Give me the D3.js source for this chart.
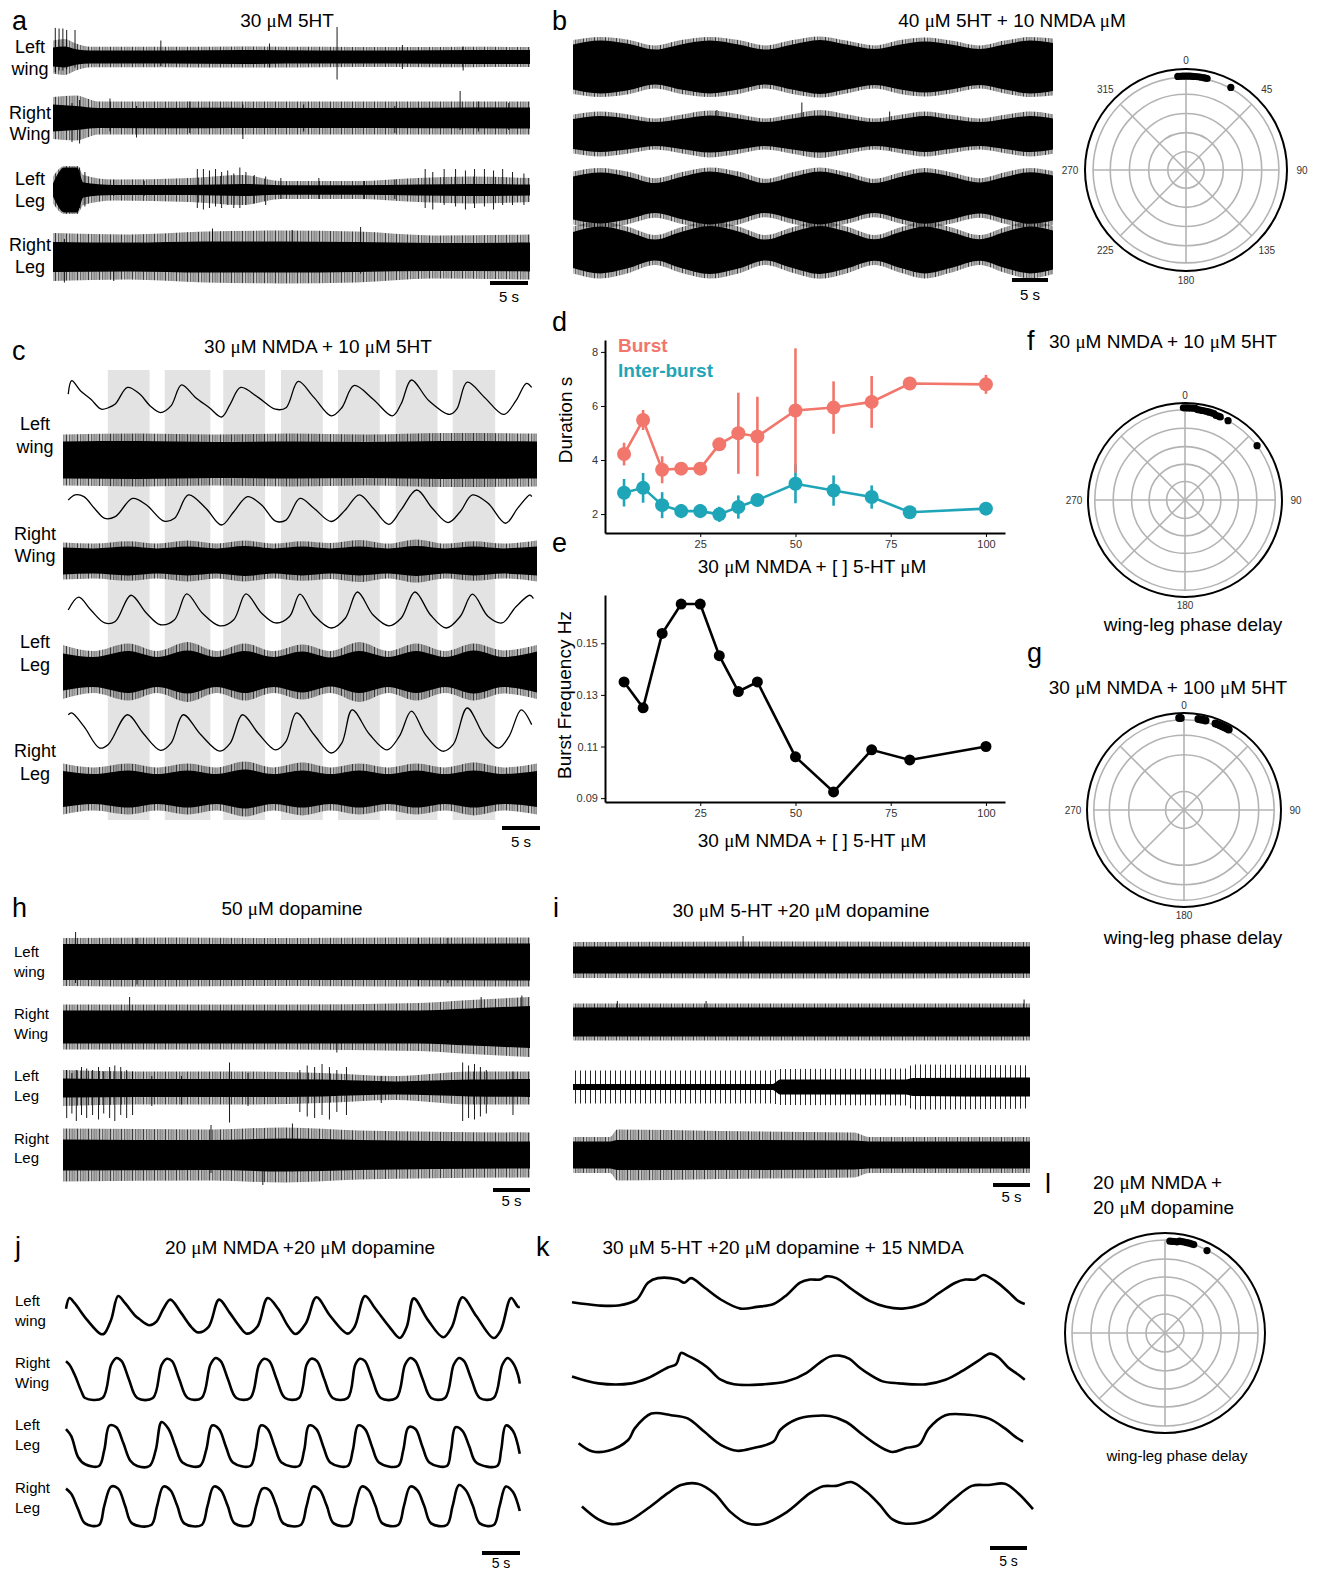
<!DOCTYPE html>
<html>
<head>
<meta charset="utf-8">
<script src="https://cdn.jsdelivr.net/npm/d3@7"></script>
<style>
  body { margin: 0; background: #fff; }
  svg { display: block; }
  text { font-family: "Liberation Sans", Arial, sans-serif; fill: #000; }
</style>
</head>
<body>
<svg id="fig"></svg>
<script>
// ---------- data (time in s, amplitudes in normalised units) ----------
// noisy traces: [t, core half-amplitude, fringe half-amplitude]; spikes: [t, top, bottom]
const aLW = [[0,0.32,0.55],[1.5,0.35,0.6],[3,0.26,0.45],[5,0.22,0.34],[15,0.22,0.34],[25,0.23,0.35],[35,0.22,0.34],[45,0.22,0.33],[55,0.23,0.34],[62.8,0.23,0.33]];
const aLWsp = [[0.3,0.97,-0.5],[0.8,0.95,-0.45],[1.3,0.95,-0.45],[1.8,0.9,-0.4],[2.9,0.9,-0.35],[14.2,0.55,-0.3],[28.5,0.45,-0.35],[37.4,1.0,-0.75],[46,0.4,-0.4],[54,0.35,-0.45]];
const aRW = [[0,0.45,0.7],[3,0.4,0.75],[6,0.33,0.55],[20,0.34,0.55],[35,0.33,0.55],[50,0.34,0.55],[62.8,0.35,0.55]];
const aRWsp = [[2.5,0.5,-0.8],[3.5,0.6,-0.85],[7.5,0.65,-0.45],[11,0.4,-0.65],[18,0.55,-0.5],[25,0.45,-0.7],[33,0.45,-0.45],[45,0.4,-0.5],[53.6,0.9,-0.4],[56,0.55,-0.45],[60,0.5,-0.4]];
const aLL = [[0,0.22,0.45],[1.5,0.75,0.8],[3.2,0.75,0.8],[4,0.25,0.5],[8,0.17,0.35],[18,0.17,0.4],[25,0.2,0.5],[30,0.16,0.3],[40,0.16,0.3],[48,0.18,0.4],[55,0.2,0.45],[62.8,0.18,0.4]];
const aLLsp = [[1.5,0.7,-0.7],[3.5,0.75,-0.6],[4.2,0.6,-0.55],[8,0.35,-0.2],[12,0.3,-0.2],[19,0.7,-0.6],[19.8,0.7,-0.65],[20.6,0.65,-0.6],[21.4,0.7,-0.55],[22.2,0.6,-0.6],[23,0.65,-0.5],[23.8,0.55,-0.6],[24.6,0.75,-0.6],[25.4,0.6,-0.5],[26.5,0.5,-0.45],[28,0.45,-0.5],[30,0.4,-0.3],[35,0.4,-0.3],[41,0.3,-0.3],[45,0.35,-0.3],[49,0.7,-0.6],[50,0.6,-0.65],[51.5,0.7,-0.5],[53,0.7,-0.55],[54.3,0.65,-0.65],[55.5,0.7,-0.6],[56.8,0.7,-0.55],[58,0.65,-0.65],[59.2,0.7,-0.5],[60.5,0.6,-0.5],[62,0.55,-0.5]];
const aRL = [[0,0.5,0.8],[10,0.48,0.75],[20,0.52,0.85],[30,0.52,0.88],[40,0.5,0.85],[50,0.47,0.72],[62.8,0.48,0.75]];
const aRLsp = [[1.5,0.6,-0.85],[8,0.4,-0.8],[21,0.95,-0.5],[31.5,0.9,-0.5],[40.5,1.0,-0.55]];

const b1 = [[0,0.75,0.9],[3.8,0.88,1.0],[7.5,0.78,0.92],[11.4,0.58,0.72],[15,0.75,0.9],[19,0.88,1.0],[23,0.75,0.9],[26.7,0.58,0.72],[30.5,0.75,0.9],[34.3,0.9,1.02],[38,0.75,0.88],[41.9,0.6,0.72],[45.5,0.75,0.9],[48.9,0.85,0.98],[52.5,0.75,0.88],[56.5,0.6,0.72],[60,0.75,0.88],[63.5,0.88,1.0],[66.7,0.8,0.95]];
const b2 = [[0,0.5,0.65],[3.8,0.6,0.75],[7.5,0.52,0.66],[11.4,0.4,0.52],[15,0.5,0.64],[19,0.62,0.78],[23,0.52,0.66],[26.7,0.4,0.52],[30.5,0.52,0.66],[34.3,0.62,0.8],[38,0.52,0.66],[41.9,0.4,0.52],[45.5,0.5,0.64],[48.9,0.6,0.75],[52.5,0.5,0.64],[56.5,0.4,0.52],[60,0.5,0.64],[63.5,0.6,0.75],[66.7,0.52,0.66]];
const b2sp = [[31.8,1.05,-0.5],[20,0.8,-0.6],[44,0.75,-0.55]];
const b3 = [[0,0.72,0.88],[3.8,0.85,1.0],[7.5,0.72,0.88],[11.4,0.5,0.66],[15,0.7,0.86],[19,0.88,1.02],[23,0.72,0.88],[26.7,0.5,0.64],[30.5,0.7,0.86],[34.3,0.88,1.02],[38,0.72,0.86],[41.9,0.5,0.64],[45.5,0.7,0.85],[48.9,0.86,1.0],[52.5,0.72,0.86],[56.5,0.52,0.66],[60,0.7,0.86],[63.5,0.86,1.0],[66.7,0.75,0.9]];
const b4 = [[0,0.6,0.78],[3.8,0.78,0.95],[7.5,0.62,0.78],[11.4,0.35,0.5],[15,0.6,0.76],[19,0.8,0.95],[23,0.62,0.78],[26.7,0.35,0.5],[30.5,0.6,0.76],[34.3,0.8,0.96],[38,0.62,0.78],[41.9,0.36,0.5],[45.5,0.6,0.76],[48.9,0.78,0.95],[52.5,0.6,0.76],[56.5,0.36,0.5],[60,0.6,0.76],[63.5,0.78,0.95],[66.7,0.65,0.8]];

// panel c
const cBursts = [[5.9,11.4],[13.4,19.4],[21.1,26.6],[28.7,34.2],[36.2,41.7],[43.8,49.3],[51.3,56.9]];
const cLWslow = [[0.69,0.62],[1.15,0.98],[2.29,0.71],[3.67,0.48],[5.05,0.21],[5.96,0.25],[6.88,0.35],[8.49,0.8],[10.1,0.62],[11.47,0.3],[12.84,0.12],[14.22,0.3],[15.6,0.87],[17.43,0.53],[19.27,0.25],[20.87,0],[22.02,0.35],[23.39,0.8],[25.69,0.53],[27.98,0.21],[29.36,0.25],[30.96,0.96],[33.03,0.53],[35.32,0.03],[36.7,0.25],[38.3,0.85],[40.83,0.48],[43.35,0.03],[44.5,0.35],[45.87,1.0],[48.17,0.44],[50.92,0.07],[51.83,0.21],[53.21,0.94],[55.5,0.53],[58.03,0.07],[59.63,0.44],[61.01,0.91],[61.7,0.8]];
const cRWslow = [[0.69,0.71],[1.6,0.86],[2.75,0.81],[4.13,0.48],[5.5,0.19],[6.88,0.24],[9.17,0.76],[11.0,0.57],[13.3,0.11],[14.68,0.19],[16.51,0.86],[18.8,0.48],[20.87,0],[22.48,0.38],[24.31,0.81],[26.15,0.57],[27.98,0.11],[29.36,0.14],[31.19,0.76],[33.03,0.48],[35.32,0.1],[37.16,0.43],[39.0,0.86],[40.83,0.48],[42.89,0.02],[44.5,0.43],[46.56,1.0],[48.62,0.48],[50.69,0.07],[52.29,0.38],[53.9,0.86],[55.96,0.62],[58.26,0.05],[59.86,0.48],[61.47,0.86],[61.7,0.81]];
const cLLslow = [[0.69,0.5],[2.06,0.86],[3.67,0.5],[5.5,0.14],[6.88,0.18],[8.94,0.91],[11.0,0.41],[12.84,0.09],[14.68,0.23],[16.28,0.95],[18.35,0.41],[20.64,0.06],[22.48,0.23],[24.08,0.95],[26.15,0.41],[27.98,0.14],[29.82,0.32],[31.19,0.94],[33.03,0.36],[35.32,0],[37.16,0.27],[38.76,1.0],[40.83,0.36],[42.89,0.06],[44.5,0.27],[46.33,1.0],[48.39,0.36],[50.46,0],[52.29,0.32],[53.9,0.94],[55.96,0.32],[57.8,0.14],[59.63,0.59],[61.47,0.91],[61.93,0.82]];
const cRLslow = [[0.69,0.85],[1.15,0.89],[2.75,0.59],[4.82,0.11],[5.96,0.19],[8.49,0.85],[10.55,0.44],[12.84,0.06],[14.22,0.22],[15.83,0.85],[18.12,0.41],[20.64,0.04],[22.02,0.22],[23.62,0.85],[25.69,0.44],[27.98,0.07],[29.36,0.26],[30.73,0.89],[33.03,0.41],[35.32,0],[36.7,0.22],[38.07,0.96],[40.37,0.41],[42.66,0.07],[44.27,0.37],[45.87,0.93],[47.71,0.41],[50.0,0.04],[51.38,0.19],[53.21,1.0],[55.5,0.37],[57.34,0.11],[58.72,0.37],[60.32,0.96],[61.7,0.63]];
const cLW = [[0,0.62,0.85],[10,0.63,0.88],[20,0.6,0.85],[30,0.62,0.88],[40,0.6,0.85],[50,0.63,0.9],[62.4,0.62,0.88]];
const cRW = [[0,0.45,0.62],[4,0.42,0.58],[8.6,0.48,0.66],[12.4,0.42,0.58],[16.4,0.48,0.68],[20.2,0.42,0.58],[23.9,0.5,0.68],[27.7,0.42,0.58],[31.5,0.48,0.66],[35.2,0.42,0.6],[39,0.48,0.7],[42.8,0.42,0.58],[46.5,0.5,0.72],[50.3,0.42,0.58],[54.1,0.48,0.66],[58,0.42,0.58],[62.4,0.48,0.68]];
const cLL = [[0,0.62,0.9],[4,0.5,0.7],[8.6,0.7,0.95],[12.4,0.5,0.7],[16.4,0.72,1.0],[20.2,0.5,0.7],[23.9,0.7,0.95],[27.7,0.5,0.7],[31.5,0.68,0.92],[35.2,0.48,0.7],[39,0.7,1.0],[42.8,0.5,0.7],[46.5,0.7,0.95],[50.3,0.5,0.7],[54.1,0.72,0.95],[58,0.5,0.72],[62.4,0.68,0.9]];
const cRL = [[0,0.6,0.85],[4,0.5,0.72],[8.6,0.62,0.85],[12.4,0.5,0.72],[16.4,0.62,0.85],[20.2,0.5,0.72],[23.9,0.65,0.92],[27.7,0.5,0.72],[31.5,0.62,0.88],[35.2,0.5,0.72],[39,0.62,0.85],[42.8,0.5,0.72],[46.5,0.62,0.85],[50.3,0.5,0.72],[54.1,0.62,0.88],[58,0.5,0.72],[62.4,0.6,0.85]];

// panels d, e
const dose = [5,10,15,20,25,30,35,40,50,60,70,80,100];
const burstDur = [4.22,5.48,3.64,3.68,3.68,4.58,4.99,4.87,5.83,5.94,6.15,6.83,6.8];
const burstErr = [0.42,0.37,0.5,0.12,0.12,0.12,1.5,1.47,2.3,0.97,0.96,0.15,0.35];
const interDur = [2.79,2.97,2.33,2.11,2.11,1.99,2.26,2.52,3.12,2.87,2.63,2.07,2.2];
const interErr = [0.51,0.55,0.48,0.26,0.26,0.28,0.43,0.15,0.72,0.56,0.43,0.12,0.12];
const burstFreq = [0.135,0.125,0.1538,0.1652,0.1652,0.1452,0.1313,0.135,0.106,0.0924,0.1087,0.1048,0.11];
const durTicks = [2,4,6,8];
const freqTicks = [0.09,0.11,0.13,0.15];
const doseTicks = [25,50,75,100];

// polar plots: [phase deg, vector length]
const polarB = [[-5,0.93],[-3.5,0.93],[-2,0.93],[-0.5,0.93],[1,0.93],[2.5,0.93],[4,0.93],[5.5,0.93],[7,0.93],[8.5,0.93],[10,0.93],[11.5,0.93],[13,0.93],[28.5,0.93]];
const polarF = [[-1,0.95],[0.5,0.95],[2,0.95],[3.5,0.95],[5,0.95],[6.5,0.95],[8,0.94],[9.5,0.94],[11,0.94],[12.5,0.94],[14,0.94],[15.5,0.94],[17,0.94],[18.5,0.94],[20,0.93],[21.5,0.93],[23,0.93],[28.5,0.93],[53,0.93]];
const polarG = [[-3,0.95],[-2,0.95],[9,0.95],[10.5,0.95],[12,0.95],[13.5,0.95],[20,0.95],[21.5,0.95],[23,0.95],[24.5,0.95],[26,0.95],[27.5,0.95],[29,0.95]];
const polarL = [[3,0.92],[4.5,0.92],[6,0.92],[7.5,0.92],[9,0.93],[10.5,0.93],[12,0.93],[13.5,0.93],[15,0.93],[16.5,0.93],[18,0.93],[27,0.925]];

// panel h, i
const hLW = [[0,0.6,0.8],[15,0.6,0.82],[30,0.6,0.8],[45,0.6,0.82],[63.1,0.62,0.82]];
const hLWsp = [[1.7,1.0,-0.7],[10,0.8,-0.75],[48,0.8,-0.8],[52,0.8,-0.7]];
const hRW = [[0,0.55,0.75],[30,0.55,0.75],[48,0.55,0.8],[55,0.62,0.9],[63.1,0.7,1.0]];
const hRWsp = [[9,1.0,-0.5],[37,0.5,-0.85],[56.5,1.0,-0.6],[62,1.05,-0.5]];
const hLL = [[0,0.32,0.6],[10,0.3,0.55],[25,0.3,0.55],[35,0.28,0.5],[45,0.22,0.4],[55,0.28,0.55],[63.1,0.3,0.55]];
const hLLsp = [[0.5,0.6,-1.0],[1.2,0.5,-0.85],[1.8,0.6,-1.1],[2.5,0.7,-0.9],[3.2,0.65,-1.0],[4,0.6,-0.9],[4.8,0.7,-1.05],[5.5,0.55,-0.85],[6.3,0.7,-1.0],[7,0.75,-1.1],[7.8,0.7,-0.9],[8.6,0.6,-1.0],[9.4,0.55,-0.9],[12,0.4,-0.6],[16,0.4,-0.55],[22.5,0.85,-1.15],[25,0.5,-0.6],[32,0.6,-0.8],[33,0.75,-0.95],[34,0.7,-1.0],[35,0.8,-0.9],[36,0.7,-1.05],[37,0.6,-0.8],[38.3,0.7,-0.9],[43,0.4,-0.5],[54,0.85,-1.1],[54.8,0.75,-1.0],[55.6,0.8,-1.05],[56.4,0.7,-0.95],[57.2,0.6,-0.85],[60.8,0.55,-0.9]];
const hRL = [[0,0.52,0.88],[20,0.5,0.85],[30,0.55,0.92],[40,0.5,0.82],[63.1,0.45,0.75]];
const hRLsp = [[20,1.0,-0.6],[31,1.05,-0.55],[27,0.5,-1.0]];
const i1 = [[0,0.45,0.6],[30,0.45,0.62],[61.8,0.45,0.6]];
const i1sp = [[23,0.8,-0.4]];
const i2 = [[0,0.48,0.62],[61.8,0.48,0.62]];
const i2sp = [[6,0.7,-0.4],[18,0.7,-0.4],[61,0.75,-0.3]];
const i3 = [[0,0.1,0.55],[27,0.1,0.55],[28,0.25,0.6],[45,0.25,0.62],[46,0.3,0.75],[61.8,0.32,0.72]];
const i4 = [[0,0.45,0.6],[5,0.45,0.6],[6,0.5,0.85],[20,0.5,0.8],[38,0.48,0.75],[40,0.45,0.6],[61.8,0.45,0.6]];

// panel j (slow envelopes, [t, level 0..1])
const jLW = [[0,0.68],[0.46,0.95],[1.14,0.82],[2.74,0.41],[4.57,0.05],[5.03,0.06],[5.94,0.41],[6.86,1.0],[7.77,0.82],[9.14,0.5],[9.6,0.43],[10.97,0.27],[11.89,0.36],[12.8,0.68],[13.72,0.91],[15.09,0.59],[16.46,0.23],[17.38,0.09],[18.75,0.23],[20.12,0.91],[21.49,0.59],[22.86,0.23],[23.78,0.06],[25.15,0.23],[26.52,0.95],[27.89,0.68],[29.26,0.23],[30.18,0.05],[31.55,0.32],[32.92,0.97],[34.75,0.5],[37.04,0.06],[37.95,0.23],[39.32,1.0],[40.69,0.68],[42.52,0.23],[43.9,-0.05],[44.81,0.23],[45.73,0.94],[47.55,0.41],[49.61,-0.03],[50.75,0.23],[52.13,0.97],[53.95,0.5],[56.24,-0.05],[57.16,0.14],[58.53,0.95],[59.44,0.73],[59.67,0.73]];
const jRW = [[0,0.92],[0.46,0.83],[1.14,0.58],[2.06,0.15],[2.51,0],[4.8,0],[5.94,0.83],[6.63,1.0],[7.32,0.92],[8.23,0.49],[9.37,0],[11.43,0],[12.57,0.83],[13.26,0.98],[13.95,0.92],[14.86,0.49],[16.0,0],[17.83,0],[18.98,0.83],[19.66,1.0],[20.35,0.92],[21.26,0.49],[22.4,0],[24.23,0],[25.38,0.83],[26.06,0.98],[26.75,0.92],[27.66,0.49],[28.81,0],[30.64,0],[31.64,0.83],[32.24,0.98],[33.01,0.92],[33.93,0.49],[35.07,0],[37.04,0],[38.04,0.83],[38.64,0.98],[39.32,0.92],[40.24,0.49],[41.38,0],[43.44,0],[44.58,0.83],[45.27,1.0],[45.95,0.92],[46.87,0.49],[48.01,0],[49.84,0],[50.98,0.83],[51.67,1.0],[52.35,0.92],[53.27,0.49],[54.41,0],[56.24,0],[57.38,0.83],[58.07,1.0],[58.76,0.88],[59.44,0.58],[59.67,0.36]];
const jLL = [[0,0.84],[0.69,0.68],[1.6,0.2],[2.51,0.04],[4.34,0],[5.03,0.36],[5.72,0.92],[6.63,0.88],[7.54,0.52],[8.46,0.12],[9.37,0],[10.97,0],[11.8,0.36],[12.57,1.0],[13.49,0.84],[14.4,0.44],[15.32,0.08],[17.6,0],[18.43,0.36],[19.2,0.92],[20.12,0.84],[21.03,0.44],[21.95,0.08],[24.23,0],[24.92,0.36],[25.61,0.92],[26.52,0.84],[27.43,0.44],[28.35,0.08],[30.64,0],[31.32,0.36],[31.96,0.92],[32.92,0.84],[33.84,0.44],[34.75,0.08],[37.04,0],[37.72,0.36],[38.41,0.92],[39.32,0.84],[40.24,0.44],[41.15,0.08],[43.67,0],[44.35,0.36],[45.04,0.88],[45.95,0.84],[46.87,0.44],[47.78,0.08],[50.07,0],[50.62,0.36],[51.21,0.88],[52.13,0.8],[53.04,0.44],[53.95,0.08],[56.7,0],[57.22,0.36],[57.84,0.92],[58.76,0.8],[59.67,0.28]];
const jRL = [[0,0.91],[0.69,0.78],[1.6,0.39],[2.51,0.04],[4.34,0],[5.03,0.48],[5.94,0.96],[6.86,0.91],[7.77,0.48],[8.69,0.04],[11.2,0],[11.98,0.48],[12.8,0.96],[13.72,0.87],[14.63,0.48],[15.55,0.04],[17.83,0],[18.61,0.48],[19.43,0.96],[20.35,0.87],[21.26,0.48],[22.18,0.04],[24.23,0],[25.01,0.48],[25.83,0.91],[26.75,0.87],[27.66,0.48],[28.58,0.04],[30.86,0],[31.64,0.48],[32.46,0.96],[33.38,0.87],[34.29,0.48],[35.21,0.04],[37.27,0],[38.04,0.48],[38.87,0.96],[39.78,0.87],[40.69,0.48],[41.61,0.04],[43.67,0],[44.44,0.48],[45.27,0.96],[46.18,0.87],[47.1,0.48],[48.01,0.04],[50.07,0],[50.84,0.48],[51.67,1.0],[52.58,0.87],[53.5,0.48],[54.41,0.04],[56.24,0],[57.02,0.48],[57.84,0.96],[58.76,0.83],[59.67,0.35]];

// panel k
const k1 = [[0,0.22],[3.57,0.13],[6.25,0.13],[8.7,0.29],[10.27,0.78],[11.61,0.91],[14.29,0.87],[15.18,0.78],[16.08,0.91],[17.86,0.65],[20.1,0.3],[22.78,0.04],[25.0,0.09],[27.24,0.17],[29.03,0.43],[30.82,0.78],[32.16,0.87],[33.5,0.87],[34.39,0.96],[35.73,0.91],[37.96,0.57],[40.2,0.26],[42.43,0.09],[44.66,0.04],[47.34,0.17],[49.57,0.48],[51.81,0.78],[53.15,0.87],[54.49,0.87],[55.6,1.0],[57.17,0.83],[58.95,0.52],[60.29,0.26],[61.19,0.17]];
const k2 = [[0,0.26],[3.57,0.05],[8.04,0.05],[10.27,0.21],[12.95,0.53],[14.07,0.63],[14.74,0.97],[15.63,0.89],[16.97,0.74],[18.31,0.53],[20.1,0.16],[21.88,0.02],[25.9,0.02],[29.03,0.11],[31.71,0.37],[33.5,0.68],[34.83,0.86],[36.17,0.89],[37.51,0.79],[38.85,0.53],[40.2,0.32],[41.98,0.11],[44.21,0.05],[47.79,0.02],[50.47,0.16],[52.7,0.42],[54.93,0.74],[56.5,0.95],[57.62,0.84],[58.95,0.53],[60.29,0.32],[61.19,0.16]];
const k3 = [[0.89,0.22],[2.68,0.02],[4.91,0.03],[7.59,0.3],[8.48,0.59],[10.72,0.96],[13.4,0.92],[15.63,0.84],[17.86,0.51],[20.1,0.18],[22.33,0.03],[24.56,0.1],[27.24,0.26],[28.14,0.55],[30.37,0.82],[32.6,0.9],[34.83,0.9],[37.07,0.75],[39.3,0.43],[41.53,0.14],[43.32,0],[45.11,0.1],[46.9,0.18],[48.23,0.59],[50.47,0.92],[53.6,0.93],[56.27,0.84],[58.5,0.59],[59.84,0.39],[60.96,0.26]];
const k4 = [[1.34,0.43],[3.57,0.13],[5.36,0.02],[7.59,0.09],[10.27,0.39],[12.95,0.74],[14.74,0.93],[16.97,0.96],[19.2,0.74],[21.44,0.3],[23.67,0.04],[25.9,0.03],[29.03,0.3],[32.16,0.74],[33.94,0.9],[35.73,0.91],[37.74,1.0],[39.75,0.78],[41.53,0.48],[43.32,0.13],[45.11,0.03],[48.23,0.13],[51.36,0.57],[54.04,0.91],[56.27,0.93],[58.5,0.96],[60.29,0.74],[62.3,0.37]];

// ---------- drawing ----------
const svg = d3.select("#fig").attr("width", 1320).attr("height", 1574).attr("viewBox", [0, 0, 1320, 1574]);
svg.append("rect").attr("width", 1320).attr("height", 1574).attr("fill", "#fff");

const defs = svg.append("defs");
// irregular vertical hairs used for the fuzzy fringe of the recordings
function hatch(id, w, bars) {
  const p = defs.append("pattern").attr("id", id).attr("patternUnits", "userSpaceOnUse").attr("width", w).attr("height", 4);
  bars.forEach(([x, op]) => p.append("rect").attr("x", x).attr("width", 0.9).attr("height", 4).attr("fill", "#000").attr("fill-opacity", op));
}
hatch("hair", 11, [[0, 0.85], [1.4, 0.45], [2.9, 0.75], [4.1, 0.35], [5.6, 0.9], [7.3, 0.5], [8.5, 0.7], [9.9, 0.4]]);
hatch("hairWide", 5, [[0, 0.95]]);

function label(x, y, str, size, anchor = "middle", opts = {}) {
  const t = svg.append("text").attr("x", x).attr("y", y).attr("font-size", size).attr("text-anchor", anchor);
  str.split(/(μ)/).forEach(s => {
    if (!s) return;
    const ts = t.append("tspan").text(s);
    if (s === "μ") ts.style("font-family", "'Liberation Serif', serif");
  });
  if (opts.fill) t.style("fill", opts.fill);
  if (opts.bold) t.attr("font-weight", "bold");
  if (opts.rotate) t.attr("transform", `rotate(-90,${x},${y})`);
  return t;
}

const area = (x, y, k) => d3.area().curve(d3.curveMonotoneX)
  .x(d => x(d[0])).y0(d => y(-d[k])).y1(d => y(d[k]));

function noisy(x, yc, env, spikes = [], pat = "hair", unit = 30) {
  const y = d3.scaleLinear().domain([-1, 1]).range([yc + unit, yc - unit]);
  const g = svg.append("g");
  g.append("path").datum(env).attr("fill", `url(#${pat})`).attr("d", area(x, y, 2));
  g.append("path").datum(env).attr("fill", "#000").attr("d", area(x, y, 1));
  g.selectAll("line").data(spikes).join("line")
    .attr("x1", d => x(d[0])).attr("x2", d => x(d[0]))
    .attr("y1", d => y(d[2])).attr("y2", d => y(d[1]))
    .attr("stroke", "#000").attr("stroke-width", 0.9);
}

function slow(x, base, span, pts, w) {
  const y = d3.scaleLinear().domain([0, 1]).range([base, base - span]);
  svg.append("path").datum(pts).attr("fill", "none").attr("stroke", "#000")
    .attr("stroke-width", w).attr("stroke-linejoin", "round")
    .attr("d", d3.line().x(d => x(d[0])).y(d => y(d[1])).curve(d3.curveCatmullRom));
}

function scaleBar(x, xEnd, y, ty, size = 15) {
  const len = x(5) - x(0);
  svg.append("line").attr("x1", xEnd - len).attr("x2", xEnd).attr("y1", y).attr("y2", y)
    .attr("stroke", "#000").attr("stroke-width", 4);
  label(xEnd - len / 2, ty, "5 s", size);
}

function polar(cx, cy, R, rings, pts, showLabels, dotR, labOff = 11) {
  const r = d3.scaleLinear().domain([0, 1]).range([0, R]);
  const g = svg.append("g").attr("transform", `translate(${cx},${cy})`);
  const rmax = d3.max(rings);
  g.selectAll("circle.ring").data(rings).join("circle").attr("class", "ring")
    .attr("r", d => r(d)).attr("fill", "none").attr("stroke", "#b3b3b3").attr("stroke-width", 1.6);
  const spokes = d3.range(0, 360, 45);
  g.selectAll("line.spoke").data(spokes).join("line").attr("class", "spoke")
    .attr("x2", a => d3.pointRadial(a * Math.PI / 180, r(rmax))[0])
    .attr("y2", a => d3.pointRadial(a * Math.PI / 180, r(rmax))[1])
    .attr("stroke", "#b3b3b3").attr("stroke-width", 1.6);
  g.append("circle").attr("r", R).attr("fill", "none").attr("stroke", "#000").attr("stroke-width", 2);
  g.selectAll("circle.pt").data(pts).join("circle").attr("class", "pt")
    .attr("cx", d => d3.pointRadial(d[0] * Math.PI / 180, r(d[1]))[0])
    .attr("cy", d => d3.pointRadial(d[0] * Math.PI / 180, r(d[1]))[1])
    .attr("r", dotR).attr("fill", "#000");
  // wider labels (90, 270) need more room sideways than 0 / 180
  const off = a => R + labOff + 6 * Math.abs(Math.sin(a * Math.PI / 180));
  g.selectAll("text").data(spokes.filter(a => showLabels.includes(a))).join("text")
    .attr("x", a => d3.pointRadial(a * Math.PI / 180, off(a))[0])
    .attr("y", a => d3.pointRadial(a * Math.PI / 180, off(a))[1])
    .attr("dy", "0.35em").attr("text-anchor", "middle").attr("font-size", 10)
    .style("fill", "#333").text(a => a);
}

// ---- panel a ----
const xa = d3.scaleLinear().domain([0, 62.8]).range([53, 530]);
label(12, 30, "a", 27, "start");
label(287, 27, "30 μM  5HT", 19);
noisy(xa, 57, aLW, aLWsp);
noisy(xa, 118, aRW, aRWsp);
noisy(xa, 190, aLL, aLLsp);
noisy(xa, 257, aRL, aRLsp);
[["Left", 53], ["wing", 75], ["Right", 119], ["Wing", 140], ["Left", 185], ["Leg", 207], ["Right", 251], ["Leg", 273]]
  .forEach(([s, y]) => label(30, y, s, 18));
scaleBar(xa, 528, 283, 302);

// ---- panel b ----
const xb = d3.scaleLinear().domain([0, 66.7]).range([573, 1053]);
label(552, 30, "b", 27, "start");
label(1012, 27, "40 μM  5HT + 10 NMDA μM", 19);
noisy(xb, 67, b1);
noisy(xb, 134, b2, b2sp);
noisy(xb, 198, b3);
noisy(xb, 250, b4);
scaleBar(xb, 1048, 280, 300);
polar(1186, 170, 101, [0.18, 0.37, 0.56, 0.75, 0.92], polarB, [0, 45, 90, 135, 180, 225, 270, 315], 3.6, 9);

// ---- panel c ----
const xc = d3.scaleLinear().domain([0, 62.4]).range([63, 537]);
svg.append("g").selectAll("rect").data(cBursts).join("rect")
  .attr("x", d => xc(d[0])).attr("width", d => xc(d[1]) - xc(d[0]))
  .attr("y", 370).attr("height", 450).attr("fill", "#e3e3e3");
label(12, 360, "c", 27, "start");
label(318, 353, "30 μM NMDA + 10 μM 5HT", 19);
slow(xc, 417, 37, cLWslow, 1.3);
noisy(xc, 460, cLW);
slow(xc, 525, 35, cRWslow, 1.3);
noisy(xc, 561, cRW);
slow(xc, 628, 36, cLLslow, 1.3);
noisy(xc, 672, cLL);
slow(xc, 753, 45, cRLslow, 1.3);
noisy(xc, 789, cRL);
[["Left", 430], ["wing", 453], ["Right", 540], ["Wing", 562], ["Left", 648], ["Leg", 671], ["Right", 757], ["Leg", 780]]
  .forEach(([s, y]) => label(35, y, s, 18));
scaleBar(xc, 540, 828, 847);

// ---- panel d ----
const xd = d3.scaleLinear().domain([0, 105]).range([605, 1005]);
const yd = d3.scaleLinear().domain([1.3, 8.44]).range([533, 340]);
label(552, 331, "d", 27, "start");
const gd = svg.append("g");
gd.append("g").attr("transform", "translate(605,0)")
  .call(d3.axisLeft(yd).tickValues(durTicks).tickSize(4).tickSizeOuter(0))
  .call(g => g.select(".domain").attr("stroke-width", 2))
  .call(g => g.selectAll("text").attr("font-size", 11).style("fill", "#333").attr("font-family", "Liberation Sans"));
gd.append("g").attr("transform", "translate(0,533)")
  .call(d3.axisBottom(xd).tickValues(doseTicks).tickSize(4).tickSizeOuter(0))
  .call(g => g.select(".domain").attr("stroke-width", 2))
  .call(g => g.selectAll("text").attr("font-size", 11).style("fill", "#333").attr("font-family", "Liberation Sans"));
const series = [
  { vals: interDur, err: interErr, color: "#1fa5b8" },
  { vals: burstDur, err: burstErr, color: "#f2766c" }
];
series.forEach(s => {
  const pts = dose.map((d, i) => [d, s.vals[i], s.err[i]]);
  gd.append("path").datum(pts).attr("fill", "none").attr("stroke", s.color).attr("stroke-width", 2.6)
    .attr("d", d3.line().x(d => xd(d[0])).y(d => yd(d[1])));
  gd.append("g").selectAll("line").data(pts).join("line")
    .attr("x1", d => xd(d[0])).attr("x2", d => xd(d[0]))
    .attr("y1", d => yd(d[1] - d[2])).attr("y2", d => yd(d[1] + d[2]))
    .attr("stroke", s.color).attr("stroke-width", 2.6);
  gd.append("g").selectAll("circle").data(pts).join("circle")
    .attr("cx", d => xd(d[0])).attr("cy", d => yd(d[1])).attr("r", 7).attr("fill", s.color);
});
label(618, 352, "Burst", 19, "start", { fill: "#f2766c", bold: true });
label(618, 377, "Inter-burst", 19, "start", { fill: "#1fa5b8", bold: true });
label(572, 420, "Duration s", 19, "middle", { rotate: true });
label(812, 573, "30 μM NMDA + [ ] 5-HT μM", 19);

// ---- panel e ----
const ye = d3.scaleLinear().domain([0.0885, 0.1687]).range([802, 595]);
label(552, 552, "e", 27, "start");
const ge = svg.append("g");
ge.append("g").attr("transform", "translate(605,0)")
  .call(d3.axisLeft(ye).tickValues(freqTicks).tickFormat(d3.format(".2f")).tickSize(4).tickSizeOuter(0))
  .call(g => g.select(".domain").attr("stroke-width", 2))
  .call(g => g.selectAll("text").attr("font-size", 11).style("fill", "#333").attr("font-family", "Liberation Sans"));
ge.append("g").attr("transform", "translate(0,802)")
  .call(d3.axisBottom(xd).tickValues(doseTicks).tickSize(4).tickSizeOuter(0))
  .call(g => g.select(".domain").attr("stroke-width", 2))
  .call(g => g.selectAll("text").attr("font-size", 11).style("fill", "#333").attr("font-family", "Liberation Sans"));
const fpts = dose.map((d, i) => [d, burstFreq[i]]);
ge.append("path").datum(fpts).attr("fill", "none").attr("stroke", "#000").attr("stroke-width", 2.6)
  .attr("d", d3.line().x(d => xd(d[0])).y(d => ye(d[1])));
ge.append("g").selectAll("circle").data(fpts).join("circle")
  .attr("cx", d => xd(d[0])).attr("cy", d => ye(d[1])).attr("r", 5.5).attr("fill", "#000");
label(571, 695, "Burst Frequency Hz", 19, "middle", { rotate: true });
label(812, 847, "30 μM NMDA + [ ] 5-HT μM", 19);

// ---- panels f, g ----
label(1027, 350, "f", 27, "start");
label(1049, 348, "30 μM NMDA + 10 μM 5HT", 19, "start");
polar(1185, 500, 97, [0.19, 0.37, 0.55, 0.74, 0.93], polarF, [0, 90, 180, 270], 3.6, 8);
label(1193, 631, "wing-leg phase delay", 19);
label(1027, 662, "g", 27, "start");
label(1168, 694, "30 μM NMDA + 100 μM 5HT", 19);
polar(1184, 810, 97, [0.19, 0.57, 0.77, 0.93], polarG, [0, 90, 180, 270], 4, 8);
label(1193, 944, "wing-leg phase delay", 19);

// ---- panel h ----
const xh = d3.scaleLinear().domain([0, 63.1]).range([63, 530]);
label(12, 917, "h", 27, "start");
label(292, 915, "50 μM  dopamine", 19);
noisy(xh, 962, hLW, hLWsp);
noisy(xh, 1027, hRW, hRWsp);
noisy(xh, 1088, hLL, hLLsp);
noisy(xh, 1155, hRL, hRLsp);
[["Left", 957], ["wing", 977], ["Right", 1019], ["Wing", 1039], ["Left", 1081], ["Leg", 1101], ["Right", 1144], ["Leg", 1163]]
  .forEach(([s, y]) => label(14, y, s, 15, "start"));
scaleBar(xh, 530, 1190, 1206);

// ---- panel i ----
const xi = d3.scaleLinear().domain([0, 61.8]).range([573, 1030]);
label(553, 917, "i", 27, "start");
label(801, 917, "30 μM 5-HT +20 μM  dopamine", 19);
noisy(xi, 960, i1, i1sp);
noisy(xi, 1022, i2, i2sp);
noisy(xi, 1087, i3, [], "hairWide");
noisy(xi, 1155, i4);
scaleBar(xi, 1030, 1185, 1202);

// ---- panel j ----
const xj = d3.scaleLinear().domain([0, 59.7]).range([66, 520]);
label(15, 1256, "j", 27, "start");
label(300, 1254, "20 μM NMDA +20 μM  dopamine", 19);
slow(xj, 1336, 40, jLW, 2.6);
slow(xj, 1398, 40, jRW, 2.6);
slow(xj, 1466, 44, jLL, 2.6);
slow(xj, 1525, 40, jRL, 2.6);
[["Left", 1306], ["wing", 1326], ["Right", 1368], ["Wing", 1388], ["Left", 1430], ["Leg", 1450], ["Right", 1493], ["Leg", 1513]]
  .forEach(([s, y]) => label(15, y, s, 15, "start"));
scaleBar(xj, 520, 1553, 1568, 14);

// ---- panel k ----
const xk = d3.scaleLinear().domain([0, 62.3]).range([572, 1033]);
label(536, 1256, "k", 27, "start");
label(783, 1254, "30 μM 5-HT +20 μM dopamine + 15 NMDA", 19);
slow(xk, 1310, 35, k1, 2.6);
slow(xk, 1385, 33, k2, 2.6);
slow(xk, 1452, 40, k3, 2.6);
slow(xk, 1525, 43, k4, 2.6);
scaleBar(xk, 1027, 1548, 1566, 14);

// ---- panel l ----
label(1045, 1193, "l", 27, "start");
label(1093, 1189, "20 μM NMDA +", 19, "start");
label(1093, 1214, "20 μM dopamine", 19, "start");
polar(1165, 1333, 100, [0.19, 0.38, 0.56, 0.74, 0.93], polarL, [], 3.6);
label(1177, 1461, "wing-leg phase delay", 15);
</script>
</body>
</html>
